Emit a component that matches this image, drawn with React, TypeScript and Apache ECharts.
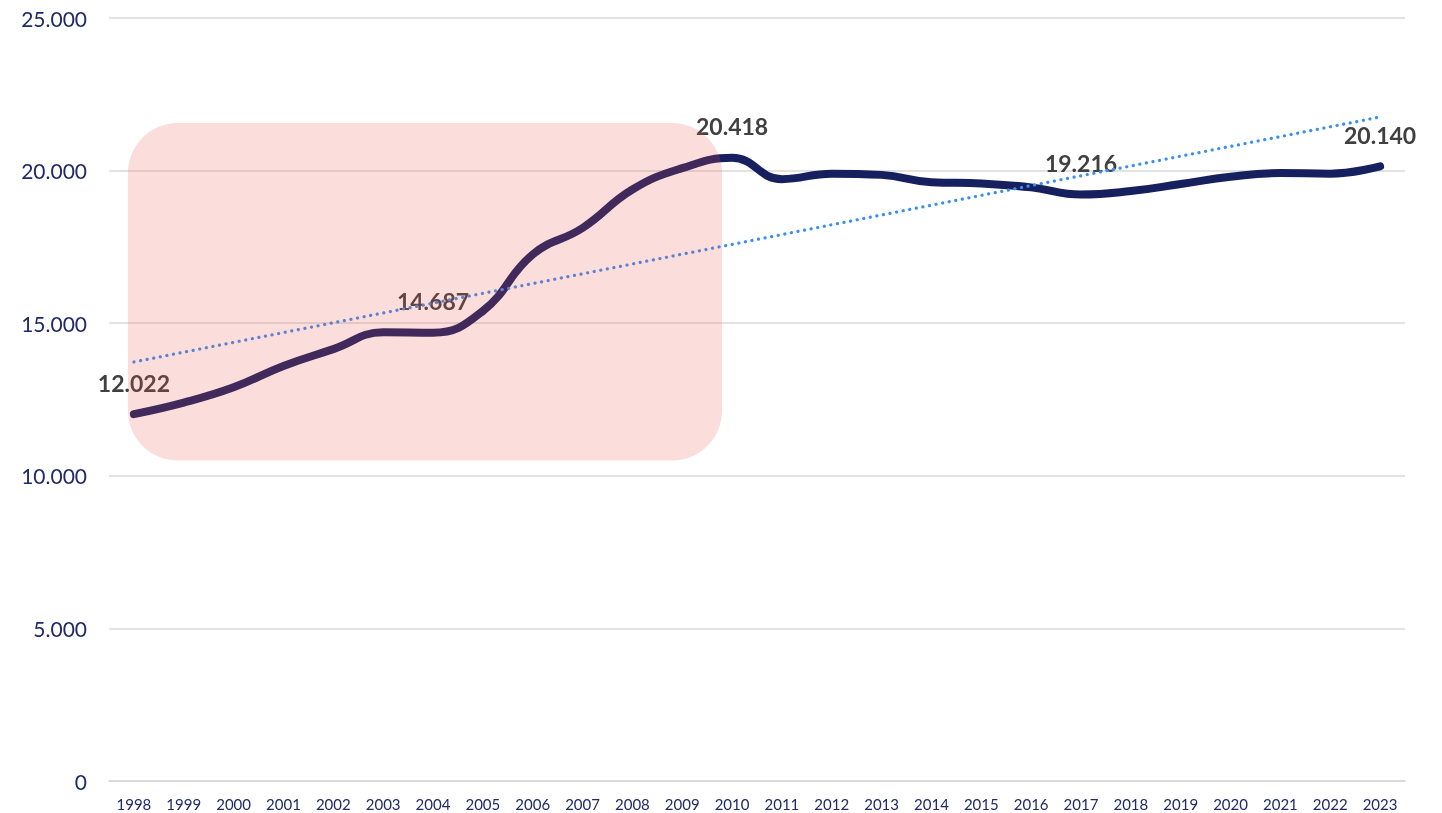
import React, { useEffect, useRef } from "react";
import * as echarts from "echarts";

const years = ["1998","1999","2000","2001","2002","2003","2004","2005","2006","2007","2008","2009","2010","2011","2012","2013","2014","2015","2016","2017","2018","2019","2020","2021","2022","2023"];
const values = [12022, 12400, 12900, 13600, 14150, 14700, 14687, 15400, 17250, 18120, 19380, 20080, 20418, 19720, 19900, 19860, 19620, 19580, 19450, 19216, 19330, 19560, 19800, 19920, 19900, 20140];
const labeledYears = ["1998", "2004", "2010", "2017", "2023"];
const trendStart = 13730;
const trendEnd = 21757;
const yTicks = { min: 0, max: 25000, interval: 5000 };
// highlighted period (categories) and value band of the overlay box
const highlightFrom = "1998";
const highlightTo = "2010";
const highlightLow = 10500;
const highlightHigh = 21560;

const fmt = (v: number) => String(Math.round(v)).replace(/\B(?=(\d{3})+(?!\d))/g, ".");

export default function App() {
  const ref = useRef<HTMLDivElement>(null);
  useEffect(() => {
    document.body.style.margin = "0";
    const chart = echarts.init(ref.current!, null, { renderer: "svg" });
    const lineData = values.map((v, i) =>
      labeledYears.includes(years[i]) ? { value: v, label: { show: true } } : v
    );
    const trendData = years.map((_, i) =>
      i === 0 ? trendStart : i === years.length - 1 ? trendEnd : null
    );
    chart.setOption({
      animation: false,
      grid: { left: 109, right: 37, top: 18, bottom: 32 },
      xAxis: {
        type: "category",
        data: years,
        boundaryGap: true,
        axisLine: { lineStyle: { color: "#d9d9d9", width: 1.5 } },
        axisTick: { show: false },
        axisLabel: { color: "#1f2a68", fontFamily: "Lato", fontSize: 15, margin: 15, interval: 0 },
      },
      yAxis: {
        type: "value",
        min: yTicks.min,
        max: yTicks.max,
        interval: yTicks.interval,
        axisLine: { show: false },
        axisTick: { show: false },
        splitLine: { lineStyle: { color: "#d9d9d9", width: 1.5 } },
        axisLabel: { color: "#1f2a68", fontFamily: "Lato", fontSize: 21, margin: 22, formatter: (v: number) => fmt(v) },
      },
      series: [
        {
          type: "line",
          data: lineData,
          smooth: 0.45,
          symbol: "circle",
          symbolSize: 0,
          showAllSymbol: true,
          itemStyle: { color: "#17205e" },
          lineStyle: { color: "#17205e", width: 8, cap: "round" },
          label: {
            show: false,
            position: "top",
            distance: 20,
            color: "#404040",
            fontFamily: "Lato",
            fontWeight: "bold",
            fontSize: 23,
            formatter: (p: any) => fmt(p.value),
          },
          z: 2,
        },
        {
          type: "line",
          data: trendData,
          connectNulls: true,
          symbol: "none",
          lineStyle: { color: "#3a8ff0", width: 3.2, type: [0.1, 6.6], cap: "round" },
          z: 3,
        },
      ],
    });
    const [x0, y0] = chart.convertToPixel({ gridIndex: 0 }, [highlightFrom, highlightHigh]) as number[];
    const [x1, y1] = chart.convertToPixel({ gridIndex: 0 }, [highlightTo, highlightLow]) as number[];
    chart.setOption({
      graphic: [
        {
          type: "rect",
          z: 100,
          shape: { x: x0 - 6, y: y0, width: x1 - 10 - (x0 - 6), height: y1 - y0, r: 50 },
          style: { fill: "rgba(234,86,80,0.2)" },
          silent: true,
        },
      ],
    });
    return () => chart.dispose();
  }, []);
  return <div ref={ref} style={{ position: "fixed", left: 0, top: 0, width: 1442, height: 813 }} />;
}
